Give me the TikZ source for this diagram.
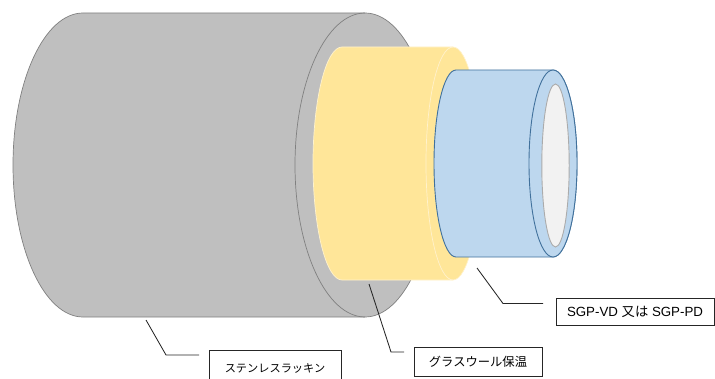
\documentclass[tikz,border=0pt]{standalone}
\usepackage{fontspec}
\setmainfont{Liberation Sans}
\newfontfamily\jpf{Noto Sans CJK JP}
\tikzset{
  x=1pt,y=1pt,
  graybody/.style={fill=black!25,draw=black!50,line width=0.7pt},
  grayrim/.style={draw=black!50,line width=0.7pt},
  yellowbody/.style={fill={rgb,255:red,255;green,230;blue,153},draw={rgb,255:red,255;green,242;blue,204},line width=0.7pt},
  yellowrim/.style={draw={rgb,255:red,255;green,242;blue,204},line width=0.7pt},
  bluebody/.style={fill={rgb,255:red,189;green,215;blue,238},draw={rgb,255:red,65;green,113;blue,156},line width=0.9pt},
  bore/.style={fill={rgb,255:red,242;green,242;blue,242},draw=black!33,line width=0.9pt},
  labelbox/.style={draw=black!85,line width=0.9pt,fill=white,inner sep=0pt,align=center},
  leader/.style={draw=black!85,line width=0.85pt}
}
\begin{document}
\begin{tikzpicture}
\useasboundingbox (0,0) rectangle (715,378);
\clip (0,0) rectangle (715,378);
% outer jacket
\path[graybody] (83,365) -- (365,365) arc[start angle=90,end angle=-90,x radius=70,y radius=152] -- (83,61) arc[start angle=270,end angle=90,x radius=70,y radius=152] -- cycle;
\path[grayrim] (365,365) arc[start angle=90,end angle=270,x radius=70,y radius=152];
% insulation
\path[yellowbody] (342,331) -- (453,331) arc[start angle=90,end angle=-90,x radius=27,y radius=116.5] -- (342,98) arc[start angle=270,end angle=90,x radius=29,y radius=116.5] -- cycle;
\path[yellowrim] (453,331) arc[start angle=90,end angle=270,x radius=27,y radius=116.5];
% pipe
\path[bluebody] (456,308) -- (553,308) arc[start angle=90,end angle=-90,x radius=24,y radius=93.5] -- (456,121) arc[start angle=270,end angle=90,x radius=22,y radius=93.5] -- cycle;
\path[bluebody] (553,214.5) ellipse[x radius=24,y radius=93.5];
\path[bore] (555.5,212.5) ellipse[x radius=13.7,y radius=81.5];
% labels
\node[labelbox,minimum width=158pt,minimum height=27pt,font=\fontsize{13.3}{15}\selectfont] (sgp) at (635,66) {SGP-VD {\jpf 又は} SGP-PD};
\node[labelbox,minimum width=128pt,minimum height=29pt,font=\fontsize{12.3}{15}\selectfont\jpf] (gw) at (478,16.5) {グラスウール保温};
\node[labelbox,minimum width=132pt,minimum height=36pt,font=\fontsize{11.2}{15}\selectfont\jpf] (ss) at (275,10) {ステンレスラッキン};
% leaders
\coordinate (a1) at (477,110);
\coordinate (a2) at (503,74.5);
\coordinate (a3) at (543,74.5);
\coordinate (b1) at (369,94);
\coordinate (b2) at (391,26);
\coordinate (b3) at (404,26);
\coordinate (c1) at (146,58);
\coordinate (c2) at (166,23);
\coordinate (c3) at (199,23);
\draw[leader] (a1) -- (a2) -- (a3);
\draw[leader] (b1) -- (b2) -- (b3);
\draw[leader] (c1) -- (c2) -- (c3);
\end{tikzpicture}
\end{document}
